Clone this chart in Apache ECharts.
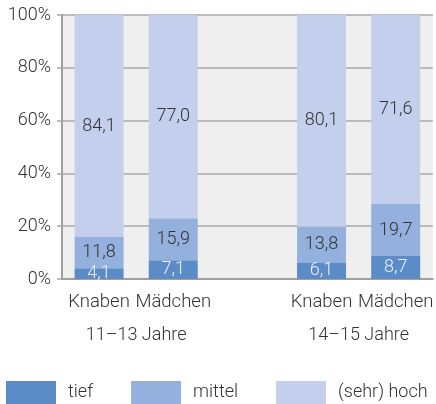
<!DOCTYPE html>
<html>
<head>
<meta charset="utf-8">
<script src="https://cdn.jsdelivr.net/npm/echarts@6/dist/echarts.min.js"></script>
<style>
  html, body { margin: 0; padding: 0; background: #fff; }
  #chart { width: 436px; height: 404px; }
</style>
</head>
<body>
<div id="chart"></div>
<script>
// Kategorien (leerer Platz zwischen den Altersgruppen)
const categories = ['Knaben', 'Mädchen', '', 'Knaben', 'Mädchen']
const groupLabels = ['', '11–13 Jahre', '', '', '14–15 Jahre', '']
const tief = [4.1, 7.1, null, 6.1, 8.7]
const mittel = [11.8, 15.9, null, 13.8, 19.7]
const hoch = [84.1, 77.0, null, 80.1, 71.6]
const yTicks = [0, 20, 40, 60, 80, 100]

const font = 'Roboto, "Noto Sans", sans-serif'
const weight = 300
const fmt = (p) => p.value.toFixed(1).replace('.', ',')

const chart = echarts.init(document.getElementById('chart'))

const barSeries = (name, data, color, labelColor) => ({
  name,
  type: 'bar',
  stack: 'total',
  data,
  xAxisIndex: 0,
  barWidth: 49,
  itemStyle: { color },
  label: {
    show: true,
    position: 'inside',
    formatter: fmt,
    color: labelColor,
    fontFamily: font,
    fontWeight: weight,
    fontSize: 18,
  },
})

chart.setOption({
  animation: false,
  textStyle: { fontFamily: font },
  grid: {
    left: 62, right: -2, top: 15, bottom: 125,
    show: true, backgroundColor: '#efefef', borderWidth: 0,
  },
  legend: {
    left: 6, bottom: 0, padding: 0,
    itemWidth: 50, itemHeight: 23, itemGap: 38,
    icon: 'rect',
    textStyle: { fontSize: 18, color: '#333', fontFamily: font, fontWeight: weight, padding: [0, 0, 0, 7] },
    data: ['tief', 'mittel', '(sehr) hoch'],
  },
  xAxis: [
    {
      type: 'category',
      data: categories,
      axisLine: { lineStyle: { color: '#a0a0a0', width: 2 } },
      axisTick: { show: false },
      axisLabel: { color: '#333', fontSize: 18.5, margin: 14, fontFamily: font, fontWeight: weight, interval: 0 },
    },
    {
      type: 'category',
      data: groupLabels,
      position: 'bottom',
      offset: 33,
      boundaryGap: false,
      axisLine: { show: false },
      axisTick: { show: false },
      axisLabel: { color: '#333', fontSize: 18, margin: 14, fontFamily: font, fontWeight: weight, interval: 0 },
    },
  ],
  yAxis: {
    type: 'value',
    min: yTicks[0],
    max: yTicks[yTicks.length - 1],
    interval: 20,
    axisLine: { show: true, lineStyle: { color: '#a0a0a0', width: 2 } },
    axisTick: { show: true, length: 5, lineStyle: { color: '#a8a8a8', width: 1.5 } },
    splitLine: { lineStyle: { color: '#a8a8a8', width: 1.5 } },
    axisLabel: { formatter: '{value}%', color: '#333', fontSize: 18, margin: 11, fontFamily: font, fontWeight: weight },
  },
  series: [
    barSeries('tief', tief, '#5b8cc8', '#e8eef8'),
    barSeries('mittel', mittel, '#94b0dc', '#333'),
    barSeries('(sehr) hoch', hoch, '#c3cfec', '#333'),
  ],
})
</script>
</body>
</html>
